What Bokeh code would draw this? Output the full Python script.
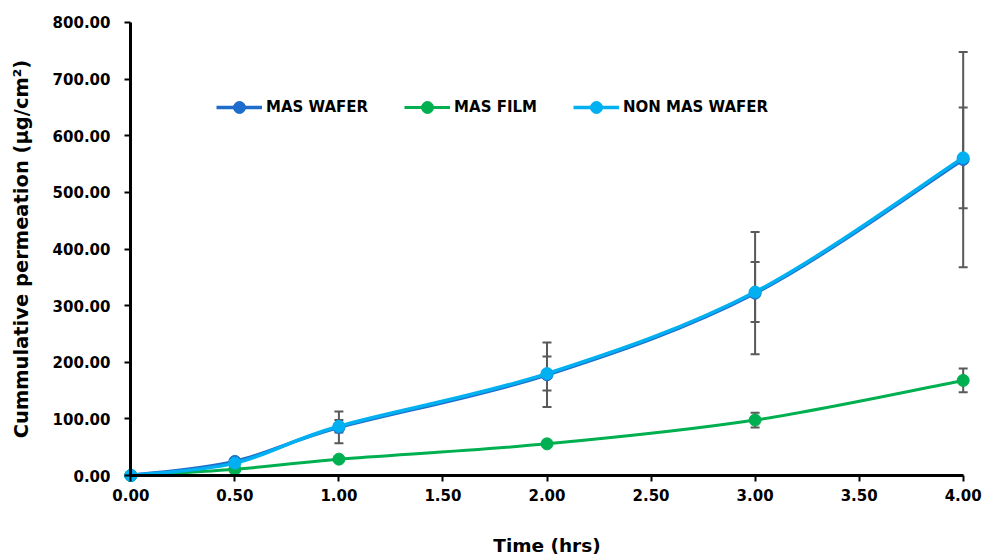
from bokeh.plotting import figure
from bokeh.models import (Range1d, FixedTicker, NumeralTickFormatter, Legend, LegendItem,
                          ColumnDataSource, LinearAxis)
from bokeh.embed import file_html
from bokeh.resources import INLINE

# ---- data ----
time_hrs = [0.0, 0.5, 1.0, 2.0, 3.0, 4.0]
mas_wafer = [0.0, 25.0, 85.0, 178.0, 322.0, 558.0]
mas_wafer_err = [0.0, 0.0, 28.0, 57.0, 108.0, 190.0]
mas_film = [0.0, 11.0, 29.0, 56.0, 98.0, 168.0]
mas_film_err = [0.0, 0.0, 0.0, 0.0, 13.0, 21.0]
non_mas_wafer = [0.0, 22.0, 87.0, 180.0, 324.0, 561.0]
non_mas_wafer_err = [0.0, 0.0, 11.0, 30.0, 53.0, 89.0]
series_names = ["MAS WAFER", "MAS FILM", "NON MAS WAFER"]
x_ticks = [0.0, 0.5, 1.0, 1.5, 2.0, 2.5, 3.0, 3.5, 4.0]
y_ticks = [0, 100, 200, 300, 400, 500, 600, 700, 800]

colors = ["#1F6CCB", "#00B050", "#00B0F0"]
FONT = "DejaVu Sans"
NAN = float("nan")

p = figure(width=982, height=559, output_backend="svg", toolbar_location=None,
           x_range=Range1d(-0.04, 4.04), y_range=Range1d(-14, 814),
           x_axis_type=None, y_axis_type=None,
           min_border_left=122, min_border_right=11, min_border_top=14, min_border_bottom=76)
p.outline_line_color = None


def smooth_segments(xs, ys):
    """Catmull-Rom style bezier control points from the data points."""
    n = len(xs)
    out = dict(x0=[], y0=[], x1=[], y1=[], cx0=[], cy0=[], cx1=[], cy1=[])
    for i in range(n - 1):
        xp, yp = (xs[i - 1], ys[i - 1]) if i > 0 else (xs[i], ys[i])
        xa, ya = xs[i], ys[i]
        xb, yb = xs[i + 1], ys[i + 1]
        xn, yn = (xs[i + 2], ys[i + 2]) if i + 2 < n else (xb, yb)
        out["x0"].append(xa); out["y0"].append(ya)
        out["x1"].append(xb); out["y1"].append(yb)
        out["cx0"].append(xa + (xb - xp) / 6.0); out["cy0"].append(ya + (yb - yp) / 6.0)
        out["cx1"].append(xb - (xn - xa) / 6.0); out["cy1"].append(yb - (yn - ya) / 6.0)
    return out


def error_bars(xs, ys, errs):
    sel = [(x, y, e) for x, y, e in zip(xs, ys, errs) if e > 0]
    ex = [s[0] for s in sel]
    lo = [s[1] - s[2] for s in sel]
    hi = [s[1] + s[2] for s in sel]
    p.segment(x0=ex, y0=lo, x1=ex, y1=hi, line_color="#595959", line_width=2)
    p.scatter(x=ex + ex, y=lo + hi, marker="dash", size=9, line_color="#595959", line_width=2)


# ---- axes ----
def style_labels(ax):
    ax.axis_line_color = None
    ax.major_tick_line_color = None
    ax.minor_tick_line_color = None
    ax.major_tick_out = 0
    ax.major_tick_in = 0
    ax.major_label_text_font = FONT
    ax.major_label_text_font_style = "bold"
    ax.major_label_text_font_size = "15px"
    ax.major_label_text_color = "black"
    ax.axis_label_text_font = FONT
    ax.axis_label_text_font_style = "bold"
    ax.axis_label_text_font_size = "18px"
    ax.axis_label_text_color = "black"
    ax.formatter = NumeralTickFormatter(format="0.00")


def style_rule(ax):
    ax.axis_line_width = 3
    ax.axis_line_color = "black"
    ax.major_tick_line_width = 2
    ax.major_tick_line_color = "black"
    ax.major_tick_out = 6
    ax.major_tick_in = 0
    ax.minor_tick_line_color = None
    ax.major_label_text_color = None
    ax.major_label_text_font_size = "1px"
    ax.major_label_standoff = 0
    ax.fixed_location = 0


# label axes (at the frame edges)
xlab = LinearAxis(ticker=FixedTicker(ticks=x_ticks), axis_label="Time (hrs)")
style_labels(xlab)
xlab.major_label_standoff = 5
xlab.axis_label_standoff = 31
xlab.axis_label_text_font_size = "18.5px"
p.add_layout(xlab, "below")

ylab = LinearAxis(ticker=FixedTicker(ticks=y_ticks), axis_label="Cummulative permeation (µg/cm²)")
style_labels(ylab)
ylab.major_label_standoff = 12
ylab.axis_label_standoff = 17
ylab.axis_label_text_font_size = "19.5px"
p.add_layout(ylab, "left")

# rule axes (axis line + ticks at data zero)
xrule = LinearAxis(ticker=FixedTicker(ticks=x_ticks), bounds=(0, 4))
style_rule(xrule)
p.add_layout(xrule, "below")
yrule = LinearAxis(ticker=FixedTicker(ticks=y_ticks), bounds=(0, 800))
style_rule(yrule)
p.add_layout(yrule, "left")

# error bars behind the lines
error_bars(time_hrs, mas_wafer, mas_wafer_err)
error_bars(time_hrs, non_mas_wafer, non_mas_wafer_err)
error_bars(time_hrs, mas_film, mas_film_err)

all_series = [mas_wafer, mas_film, non_mas_wafer]
widths = [3.5, 3, 3.5]
legend_items = []
for name, ys, c, w in zip(series_names, all_series, colors, widths):
    seg = smooth_segments(time_hrs, ys)
    p.bezier(source=ColumnDataSource(seg), x0="x0", y0="y0", x1="x1", y1="y1",
             cx0="cx0", cy0="cy0", cx1="cx1", cy1="cy1", line_color=c, line_width=w)
    p.scatter(x=time_hrs, y=ys, size=12, fill_color=c, line_color=c)
    lr = p.line(x=[NAN], y=[NAN], line_color=c, line_width=w)
    sr = p.scatter(x=[NAN], y=[NAN], size=12, fill_color=c, line_color=c)
    legend_items.append(LegendItem(label=name, renderers=[lr, sr]))

legend = Legend(items=legend_items, orientation="horizontal", location=(94, 361),
                glyph_width=46, glyph_height=30, label_standoff=4, spacing=36,
                padding=0, margin=0, border_line_color=None, background_fill_alpha=0,
                label_text_font=FONT, label_text_font_style="bold",
                label_text_font_size="15px", label_text_color="black")
p.add_layout(legend, "center")

open("out.html", "w").write(file_html(p, INLINE))
